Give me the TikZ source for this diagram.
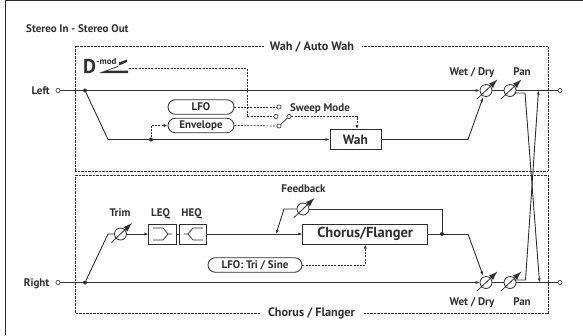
\documentclass[tikz,border=0pt]{standalone}
\usepackage{fontspec}
\setmainfont{PT Sans}
\usetikzlibrary{arrows.meta,shapes.misc}
\definecolor{ink}{HTML}{2E2E2E}
\tikzset{
    sig/.style={draw=ink, line width=0.9pt, line join=miter},
    ctl/.style={draw=ink, line width=0.7pt, dash pattern=on 2pt off 1.2pt},
    zone/.style={draw=ink, line width=0.6pt, dash pattern=on 0.7pt off 0.7pt},
    lbl/.style={text=ink, font=\fontsize{11}{12}\selectfont\bfseries, inner sep=0pt,
        text height=7pt, text depth=2pt, yshift=-1.2pt},
    zonelbl/.style={text=ink, font=\fontsize{12.2}{13}\selectfont\bfseries, inner sep=0pt},
    block/.style={draw=ink, line width=1pt, fill=white, inner sep=0pt},
    pill/.style={draw=ink, line width=0.8pt, fill=white, rounded rectangle, inner sep=0pt,
        text=ink, font=\fontsize{11}{12}\selectfont\bfseries, minimum height=14.5pt},
    jack/.style={circle, draw=ink, line width=0.6pt, fill=white, inner sep=0pt, minimum size=4.2pt},
    knobc/.style={circle, draw=ink, line width=0.8pt, inner sep=0pt, minimum size=12pt},
    dot/.style={circle, fill=ink, inner sep=0pt, minimum size=4pt},
}
\newcommand{\knob}[2]{%
    \node[knobc] (#1) at (#2) {};
    \draw[draw=ink, line width=0.8pt, -{Latex[length=9pt,width=6pt]}]
        ([shift={(-9,8.5)}]#1.center) -- ([shift={(11.5,-11)}]#1.center);
}
\begin{document}
\begin{tikzpicture}[x=1pt, y=-1pt, >={Latex[length=4pt,width=3pt]}]
    \useasboundingbox (0,0) rectangle (583,335);
    % Frame
    \draw[ink, line width=1.2pt] (5.7,335) -- (5.7,0.6) -- (583,0.6);
    \node[lbl, anchor=west] (title) at (26,28.5) {Stereo In - Stereo Out};

    % Zones
    \node[zonelbl] (wahzone) at (312,47) {Wah / Auto Wah};
    \node[zonelbl] (chozone) at (311.5,313) {Chorus / Flanger};
    \draw[zone] (wahzone.west) ++(-6,-0.5) -- (75.5,46.5) -- (75.5,171) -- (548,171) -- (548,46.5) -- (362,46.5);
    \draw[zone] (chozone.west) ++(-8,0.5) -- (75.5,313.5) -- (75.5,175) -- (548,175) -- (548,313.5) -- (364,313.5);

    % In / out
    \node[jack] (inl) at (58,90.5) {};
    \node[jack] (inr) at (58,282.5) {};
    \node[jack] (outl) at (560,90.5) {};
    \node[jack] (outr) at (560,282.5) {};
    \node[lbl, anchor=east] at (50,90.5) {Left};
    \node[lbl, anchor=east] at (49.5,282.5) {Right};

    % Knobs
    \knob{wdl}{486,90.5}
    \knob{panl}{510,90.5}
    \knob{wdr}{486,282.5}
    \knob{panr}{510,282.5}
    \knob{trim}{120.5,234}
    \knob{fb}{303,209}
    \node[lbl] at (472,71.5) {Wet / Dry};
    \node[lbl] at (522,71.5) {Pan};
    \node[lbl] at (472,301.5) {Wet / Dry};
    \node[lbl] at (522,301.5) {Pan};
    \node[lbl] at (120,213) {Trim};
    \node[lbl] at (160.5,213) {LEQ};
    \node[lbl] at (191.5,213) {HEQ};
    \node[lbl] at (303.5,189) {Feedback};
    \node[lbl] at (320,107.5) {Sweep Mode};

    % Blocks
    \node[block, minimum width=51pt, minimum height=20pt, text=ink, font=\fontsize{13.5}{14}\selectfont\bfseries] (wah) at (355.5,139.5) {Wah\hspace{4pt}};
    \node[block, minimum width=124.5pt, minimum height=20pt, text=ink, font=\fontsize{14.5}{15}\selectfont\bfseries] (chofl) at (365.2,234) {Chorus/Flanger\hspace{9pt}};
    \node[block, minimum width=27.5pt, minimum height=20pt] (leq) at (162.7,234) {};
    \node[block, minimum width=27.5pt, minimum height=20pt] (heq) at (193,234) {};
    \node[pill, minimum width=66pt] (lfo) at (201,107) {LFO};
    \node[pill, minimum width=66pt] (env) at (201,125.5) {Envelope};
    \node[pill, minimum width=94pt] (lfots) at (255,265) {LFO: Tri / Sine\hspace{12pt}};

    % EQ glyphs
    \draw[sig, line width=0.7pt] (153,228) -- (163,228) -- (168,234) -- (172,234);
    \draw[sig, line width=0.7pt] (153,240) -- (163,240) -- (168,234);
    \draw[sig, line width=0.7pt] (203,228) -- (193,228) -- (188,234) -- (184,234);
    \draw[sig, line width=0.7pt] (203,240) -- (193,240) -- (188,234);

    % Points
    \node[dot] (tapl) at (85,90.5) {};
    \node[dot] (tapr) at (85,282.5) {};
    \node[dot] (tapenv) at (151,139.5) {};
    \node[dot] (tapfb) at (442,234) {};
    \coordinate (wahin) at (108,139.5);
    \coordinate (wahout) at (468,139.5);
    \coordinate (trimin) at (108,234);
    \coordinate (fbtop) at (442,209);
    \coordinate (fbleft) at (284,209);
    \coordinate (fbdown) at (276,234);
    \coordinate (choout) at (468,234);
    \coordinate (xtl) at (525,93);
    \coordinate (xbl) at (525.5,280);
    \coordinate (xtr) at (538.5,90.5);
    \coordinate (xbr) at (539.5,282.5);

    % Left signal
    \draw[sig, ->] (inl) -- (wdl.west);
    \draw[sig] (tapl) -- (wahin) -- (tapenv);
    \draw[sig, ->] (tapenv) -- (wah.west);
    \draw[sig, ->] (wah.east) -- (wahout) -- (483,97.5);
    \draw[sig] (wdl.east) -- (panl.west);
    \draw[sig] (panl.east) -- (outl);

    % Right signal
    \draw[sig, ->] (inr) -- (wdr.west);
    \draw[sig] (tapr) -- (trimin) -- (trim.west);
    \draw[sig, ->] (trim.east) -- (leq.west);
    \draw[sig] (leq.east) -- (heq.west);
    \draw[sig, ->] (heq.east) -- (chofl.west);
    \draw[sig] (chofl.east) -- (choout);
    \draw[sig, ->] (choout) -- (483,275.5);
    \draw[sig] (wdr.east) -- (panr.west);
    \draw[sig] (panr.east) -- (outr);
    \draw[sig] (tapfb) -- (fbtop) -- (fb.east);
    \draw[sig, ->] (fb.west) -- (fbleft) -- (fbdown);

    % Pan crossing
    \draw[sig, ->] (514,93) -- (xtl) -- (xbr);
    \draw[sig, ->] (514,280) -- (xbl) -- (xtr);

    % Modulation
    \node[text=ink, inner sep=0pt, font=\fontsize{20}{20}\selectfont\bfseries] (dmod) at (89.5,66.5) {D};
    \node[text=ink, inner sep=0pt, font=\fontsize{9}{10}\selectfont\bfseries] (modtxt) at (106.5,61) {-mod};
    \fill[ink] (99,73) -- (128,73) -- (128,70.5) -- (107,70.5) -- (118,67) -- (118,66) -- cycle;
    \fill[ink] (119,62.5) -- (127,59.5) -- (127,62) -- (119,65.5) -- cycle;
    \coordinate (pedal) at (129,68.5);
    \coordinate (swtop) at (247,68.5);
    \coordinate (swbot) at (247,116.5);
    \node[jack] (swa) at (279,107) {};
    \node[jack] (swb) at (276,116.5) {};
    \node[jack] (swc) at (289,116.5) {};
    \node[jack] (swd) at (279,126) {};
    \coordinate (wahctl) at (357,116.5);
    \coordinate (envup) at (151,125.5);
    \draw[sig, line width=0.7pt] (swd) -- (swc);
    \draw[ctl] (pedal) -- (swtop) -- (swbot) -- (swb);
    \draw[ctl] (lfo.east) -- (swa);
    \draw[ctl] (env.east) -- (swd);
    \draw[ctl, ->] (swc) -- (wahctl) -- (wah.north -| wahctl);
    \draw[ctl, ->] (tapenv) -- (envup) -- (env.west);
    \draw[ctl, ->] (lfots.east) -- (365.2,265) -- (chofl.south);
\end{tikzpicture}
\end{document}
